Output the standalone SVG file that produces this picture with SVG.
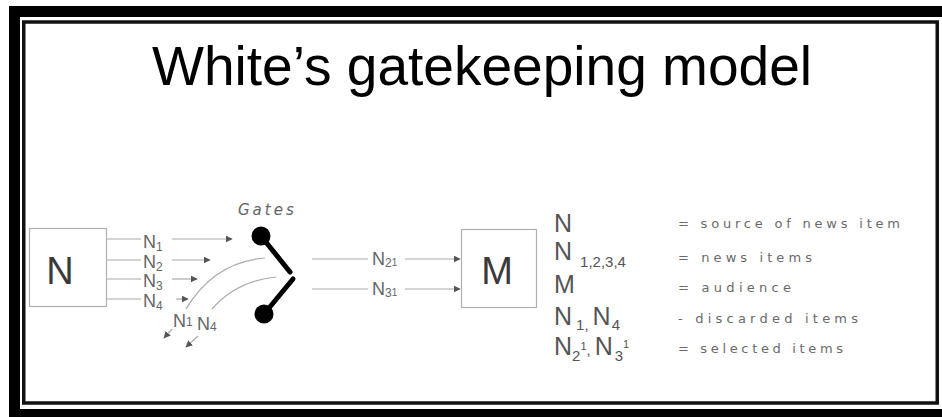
<svg xmlns="http://www.w3.org/2000/svg" width="942" height="417" viewBox="0 0 942 417">
  <style>
    .title { font-family: "Liberation Sans", Arial, sans-serif; font-size: 56px; fill: #000; }
    .big { font-family: "Liberation Sans", Arial, sans-serif; font-size: 38px; fill: #3a3a3a; }
    .lbl { font-family: "Liberation Sans", Arial, sans-serif; font-size: 18px; fill: #666; }
    .sub { font-size: 12px; }
    .gates { font-family: "DejaVu Sans", sans-serif; font-style: italic; font-size: 15px; fill: #666; letter-spacing: 3px; }
    .key { font-family: "Liberation Sans", Arial, sans-serif; font-size: 25px; fill: #555; }
    .ksub { font-size: 15px; }
    .desc { font-family: "DejaVu Sans", sans-serif; font-size: 13px; fill: #6a6a6a; }
    .box { fill: #fff; stroke: #b0b0b0; stroke-width: 1.2; }
    .wire { fill: none; stroke: #aaa; stroke-width: 1.2; }
    .gate { stroke: #000; stroke-width: 5; stroke-linecap: round; fill: none; }
  </style>
  <defs>
    <marker id="tip" viewBox="0 0 10 10" refX="9" refY="5" markerWidth="7" markerHeight="7" markerUnits="userSpaceOnUse" orient="auto">
      <path d="M0,0 L10,5 L0,10 z" fill="#555"/>
    </marker>
  </defs>

  <!-- frame -->
  <g id="frame">
    <rect x="9" y="6" width="933" height="411" fill="#000"/>
    <rect x="20" y="17" width="922" height="392" fill="#fff"/>
    <rect x="23.75" y="22" width="913.5" height="381" fill="none" stroke="#111" stroke-width="3.5"/>
  </g>

  <text class="title" x="152" y="85" textLength="660" lengthAdjust="spacingAndGlyphs">White’s gatekeeping model</text>

  <!-- connectors -->
  <g id="connectors">
    <line class="wire" x1="107" y1="239" x2="141" y2="239"/>
    <line class="wire" x1="172" y1="239" x2="232" y2="239" marker-end="url(#tip)"/>
    <line class="wire" x1="107" y1="260" x2="141" y2="260"/>
    <line class="wire" x1="172" y1="260" x2="210" y2="260" marker-end="url(#tip)"/>
    <line class="wire" x1="107" y1="279" x2="141" y2="279"/>
    <line class="wire" x1="172" y1="279" x2="197" y2="279" marker-end="url(#tip)"/>
    <line class="wire" x1="107" y1="299" x2="141" y2="299"/>
    <line class="wire" x1="176" y1="299" x2="188" y2="299" marker-end="url(#tip)"/>
    <!-- rejected items bending away from the gates -->
    <path class="wire" d="M265 258 Q214 262 186 309"/>
    <line class="wire" x1="172" y1="329" x2="164" y2="338" marker-end="url(#tip)"/>
    <path class="wire" d="M276 277 Q236 281 212 309"/>
    <line class="wire" x1="198" y1="336" x2="186" y2="347" marker-end="url(#tip)"/>
    <!-- selected items -->
    <line class="wire" x1="312" y1="259" x2="368" y2="259"/>
    <line class="wire" x1="405" y1="259" x2="460" y2="259" marker-end="url(#tip)"/>
    <line class="wire" x1="312" y1="289" x2="368" y2="289"/>
    <line class="wire" x1="405" y1="289" x2="460" y2="289" marker-end="url(#tip)"/>
  </g>

  <!-- edge labels -->
  <g id="labels">
    <text class="lbl" x="143" y="248">N<tspan class="sub" dy="3">1</tspan></text>
    <text class="lbl" x="143" y="268">N<tspan class="sub" dy="3">2</tspan></text>
    <text class="lbl" x="143" y="287">N<tspan class="sub" dy="3">3</tspan></text>
    <text class="lbl" x="143" y="307">N<tspan class="sub" dy="3">4</tspan></text>
    <text class="lbl" x="173" y="327">N<tspan class="sub" dy="-1">1</tspan></text>
    <text class="lbl" x="197" y="330">N<tspan class="sub" dy="1">4</tspan></text>
    <text class="lbl" x="372" y="265">N<tspan class="sub" dy="2">2</tspan><tspan font-size="10" dy="-1">1</tspan></text>
    <text class="lbl" x="372" y="295">N<tspan class="sub" dy="2">3</tspan><tspan font-size="10" dy="-1">1</tspan></text>
  </g>

  <g id="node-N">
    <rect class="box" x="29.5" y="228.5" width="77" height="78"/>
    <text class="big" x="60" y="284" text-anchor="middle">N</text>
  </g>

  <g id="node-gates">
    <text class="gates" x="238" y="215">Gates</text>
    <line class="gate" x1="261" y1="236" x2="290" y2="272"/>
    <circle cx="261" cy="236" r="9.5" fill="#000"/>
    <line class="gate" x1="293" y1="279" x2="264" y2="314"/>
    <circle cx="264" cy="314" r="9.5" fill="#000"/>
  </g>

  <g id="node-M">
    <rect class="box" x="461.5" y="229.5" width="75" height="78"/>
    <text class="big" x="497" y="284" text-anchor="middle">M</text>
  </g>

  <!-- key -->
  <g id="legend">
    <text class="key" x="554" y="232">N</text>
    <text class="desc" x="678" y="228" textLength="222" lengthAdjust="spacing">= source of news item</text>
    <text class="key" x="554" y="260">N<tspan class="ksub" dx="8" dy="7">1,2,3,4</tspan></text>
    <text class="desc" x="678" y="262" textLength="134" lengthAdjust="spacing">= news items</text>
    <text class="key" x="554" y="293">M</text>
    <text class="desc" x="678" y="292" textLength="113" lengthAdjust="spacing">= audience</text>
    <text class="key" x="554" y="325">N<tspan class="ksub" dx="4" dy="5">1,</tspan><tspan dx="4" dy="-5">N</tspan><tspan class="ksub" dx="1" dy="5">4</tspan></text>
    <text class="desc" x="678" y="323" textLength="180" lengthAdjust="spacing">- discarded items</text>
    <text class="key" x="554" y="355">N<tspan class="ksub" dy="6">2</tspan><tspan font-size="11" dy="-11">1</tspan><tspan class="ksub" dy="5">,</tspan><tspan dx="4" dy="0">N</tspan><tspan class="ksub" dx="2" dy="6">3</tspan><tspan font-size="11" dy="-13">1</tspan></text>
    <text class="desc" x="678" y="353" textLength="165" lengthAdjust="spacing">= selected items</text>
  </g>
</svg>
